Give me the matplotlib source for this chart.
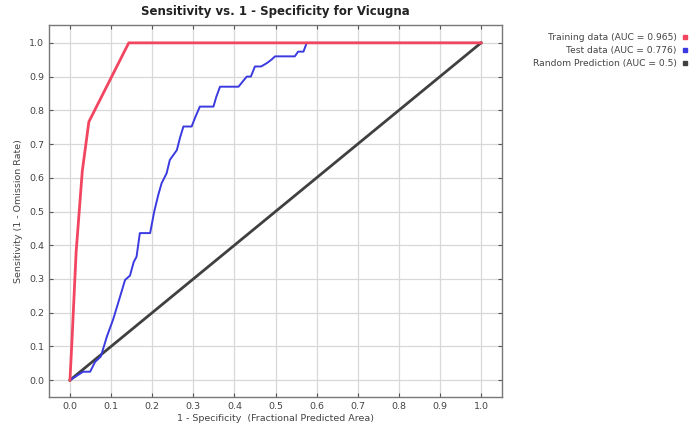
import matplotlib

matplotlib.use("Agg")
import matplotlib.pyplot as plt
from matplotlib.lines import Line2D

# ROC curves
train_fpr = [0.0, 0.005, 0.015, 0.03, 0.046, 0.143, 1.0]
train_tpr = [0.0, 0.12, 0.38, 0.62, 0.766, 1.0, 1.0]

test_fpr = [0.0, 0.032, 0.049, 0.061, 0.075, 0.09, 0.105, 0.12, 0.134, 0.146, 0.155,
            0.162, 0.17, 0.195, 0.205, 0.215, 0.223, 0.235, 0.243, 0.26, 0.268, 0.276,
            0.296, 0.305, 0.316, 0.349, 0.356, 0.365, 0.41, 0.42, 0.43, 0.44, 0.45,
            0.465, 0.479, 0.49, 0.499, 0.547, 0.555, 0.568, 0.576, 1.0]
test_tpr = [0.0, 0.025, 0.025, 0.054, 0.07, 0.13, 0.18, 0.24, 0.297, 0.31, 0.35,
            0.366, 0.436, 0.436, 0.5, 0.55, 0.584, 0.613, 0.653, 0.682, 0.72, 0.752,
            0.752, 0.78, 0.811, 0.811, 0.84, 0.87, 0.87, 0.885, 0.9, 0.9, 0.93,
            0.93, 0.94, 0.95, 0.96, 0.96, 0.974, 0.974, 1.0, 1.0]

random_x = [0.0, 1.0]
random_y = [0.0, 1.0]

labels = ["Training data (AUC = 0.965)", "Test data (AUC = 0.776)", "Random Prediction (AUC = 0.5)"]
colors = ["#f24560", "#3a3ae0", "#404040"]
ticks = [i / 10 for i in range(11)]

fig = plt.figure(figsize=(6.93, 4.36), dpi=100)
ax = fig.add_axes([0.0707, 0.0894, 0.6537, 0.8533])

ax.plot(random_x, random_y, color=colors[2], lw=2.0, zorder=3)
ax.plot(test_fpr, test_tpr, color=colors[1], lw=1.4, zorder=4)
ax.plot(train_fpr, train_tpr, color=colors[0], lw=2.0, zorder=5)

ax.set_xlim(-0.051, 1.051)
ax.set_ylim(-0.05, 1.053)
ax.set_xticks(ticks)
ax.set_yticks(ticks)
ax.set_xticklabels([f"{t:.1f}" for t in ticks])
ax.set_yticklabels([f"{t:.1f}" for t in ticks])
ax.grid(True, color="#d8d8d8", lw=0.9)
ax.set_axisbelow(True)
ax.tick_params(direction="in", top=True, right=True, length=3, labelsize=6.8,
               colors="#555555", labelcolor="#444444")
for spine in ax.spines.values():
    spine.set_color("#777777")
    spine.set_linewidth(1.0)

ax.set_title("Sensitivity vs. 1 - Specificity for Vicugna", fontsize=8.5,
             fontweight="bold", color="#222222", pad=7)
ax.set_xlabel("1 - Specificity  (Fractional Predicted Area)", fontsize=6.8,
              color="#444444", labelpad=2)
ax.set_ylabel("Sensitivity (1 - Omission Rate)", fontsize=6.8, color="#444444",
              labelpad=4)

handles = [Line2D([], [], ls="none", marker="s", markersize=3.5, color=c) for c in colors]
fig.legend(handles, labels, loc="upper right", bbox_to_anchor=(1.004, 0.943),
           markerfirst=False, frameon=False, fontsize=6.6, handlelength=0.6,
           handletextpad=0.6, labelspacing=0.45, labelcolor="#444444")

fig.savefig("out.png", dpi=100, facecolor="white")
